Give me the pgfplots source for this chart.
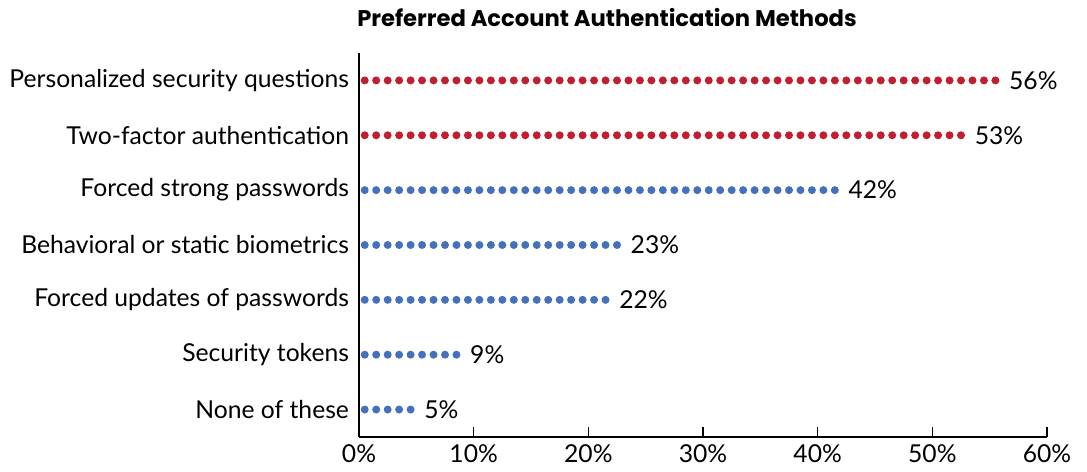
\documentclass[border=0pt]{standalone}
\usepackage{fontspec}
\setmainfont{Lato}
\newfontfamily\titlefont{Poppins}
\usepackage{pgfplots}
\pgfplotsset{compat=1.18}

\definecolor{dotred}{RGB}{193,30,48}
\definecolor{dotblue}{RGB}{68,112,190}

% one dot per percentage point, 1% = 8.6pt
\tikzset{dots/.style={line width=6pt, line cap=round,
    dash pattern=on 0pt off 8.6pt, dash phase=4.3pt, draw=#1}}

\begin{document}
\begin{tikzpicture}
\begin{axis}[
    x=8.6pt, y=41.14pt,
    xmin=0, xmax=60, ymin=0.5, ymax=7.5,
    axis x line*=bottom, axis y line*=left,
    axis line style={line width=1pt, -},
    font=\fontsize{18.5}{22}\selectfont,
    /pgf/number format/assume math mode=true,
    xtick={0,10,...,60},
    xticklabel={\pgfmathprintnumber{\tick}\%},
    x tick style={line width=1pt, black},
    major tick length=7.5pt,
    tick align=inside,
    xticklabel style={yshift=-2pt},
    ytick={1,...,7},
    yticklabels={None of these, Security tokens\ , Forced updates of passwords, Behavioral or static biometrics\ , Forced strong passwords, Two-factor authentication, Personalized security questions},
    y tick style={draw=none},
    yticklabel style={xshift=-4pt},
    clip=false,
]
\addplot[dots=dotred] coordinates {(0,7) (56,7)} node[pos=1, anchor=west, black, inner sep=3pt] {56\%};
\addplot[dots=dotred] coordinates {(0,6) (53,6)} node[pos=1, anchor=west, black, inner sep=3pt] {53\%};
\addplot[dots=dotblue] coordinates {(0,5) (42,5)} node[pos=1, anchor=west, black, inner sep=3pt] {42\%};
\addplot[dots=dotblue] coordinates {(0,4) (23,4)} node[pos=1, anchor=west, black, inner sep=3pt] {23\%};
\addplot[dots=dotblue] coordinates {(0,3) (22,3)} node[pos=1, anchor=west, black, inner sep=3pt] {22\%};
\addplot[dots=dotblue] coordinates {(0,2) (9,2)} node[pos=1, anchor=west, black, inner sep=3pt] {9\%};
\addplot[dots=dotblue] coordinates {(0,1) (5,1)} node[pos=1, anchor=west, black, inner sep=3pt] {5\%};

\node[anchor=base west, inner sep=0pt, font=\fontsize{17}{20}\titlefont\bfseries]
    at ([xshift=-1.5pt, yshift=19.5pt]rel axis cs:0,1) {Preferred Account Authentication Methods};

% page frame in the reference's proportions
\path (rel axis cs:-0.5218,-0.0911) rectangle (rel axis cs:1.0581,1.138);
\end{axis}
\end{tikzpicture}
\end{document}
